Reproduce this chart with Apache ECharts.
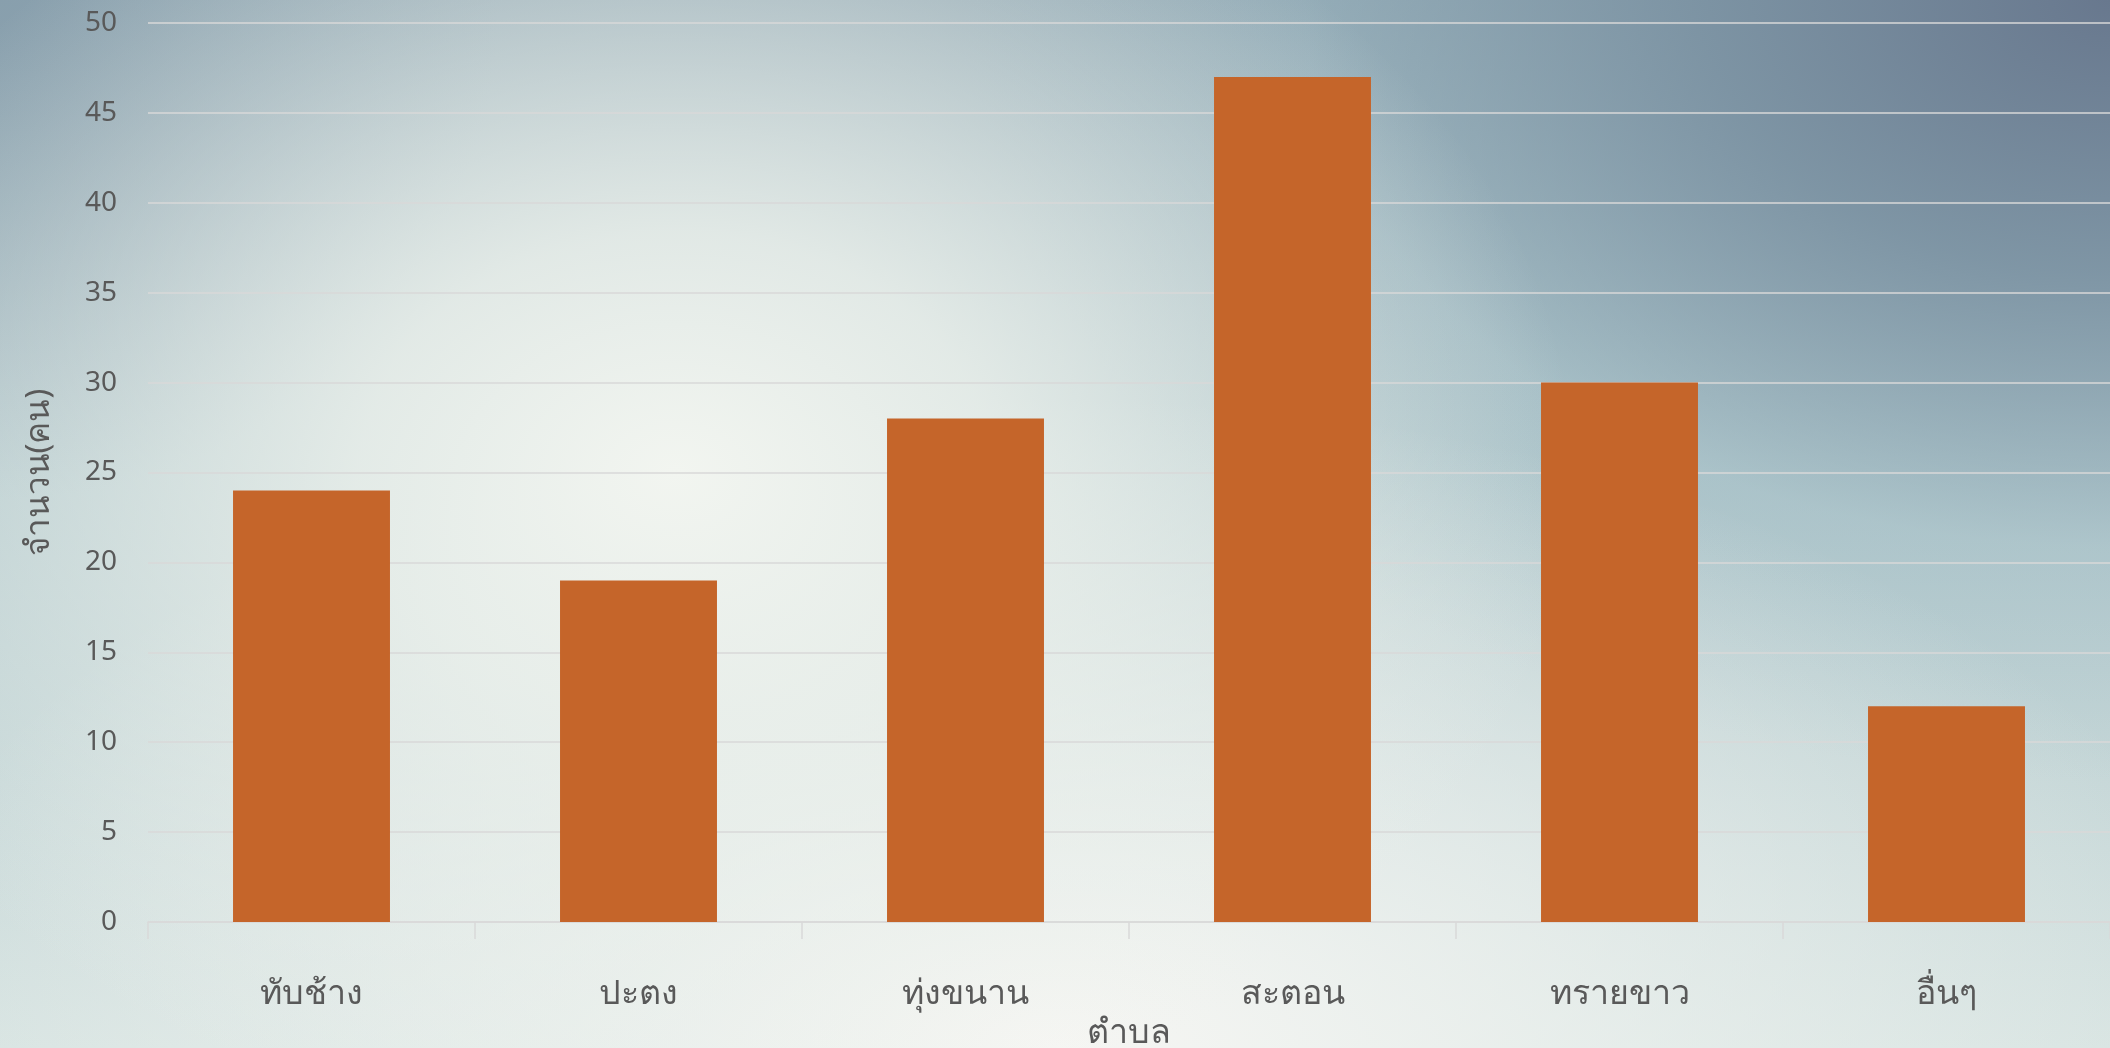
<!DOCTYPE html>
<html>
<head>
<meta charset="utf-8">
<script src="https://cdn.jsdelivr.net/npm/echarts@6/dist/echarts.min.js"></script>
<style>
html,body{margin:0;padding:0;width:2110px;height:1048px;overflow:hidden;}
body{
  background:
    radial-gradient(ellipse 900px 680px at 32% 45%, rgba(242,245,240,1) 0%, rgba(236,241,236,0.85) 35%, rgba(236,241,236,0) 100%),
    radial-gradient(ellipse 1200px 650px at 50% 100%, rgba(246,246,243,1) 0%, rgba(240,243,240,0.7) 40%, rgba(240,243,240,0) 100%),
    radial-gradient(ellipse 1150px 780px at 100% 0%, rgba(104,120,142,1) 0%, rgba(120,143,160,0.85) 35%, rgba(150,180,192,0.3) 70%, rgba(160,190,200,0) 100%),
    radial-gradient(ellipse 500px 500px at 0% 0%, rgba(135,158,172,0.9) 0%, rgba(135,158,172,0) 100%),
    linear-gradient(to bottom, #93a9b4 0%, #b3c9cd 45%, #d6e3e1 100%);
}
#chart{width:2110px;height:1048px;}
</style>
</head>
<body>
<div id="chart"></div>
<script>
const categories = ['ทับช้าง', 'ปะตง', 'ทุ่งขนาน', 'สะตอน', 'ทรายขาว', 'อื่นๆ'];
const values = [24, 19, 28, 47, 30, 12];
const yTicks = [0, 5, 10, 15, 20, 25, 30, 35, 40, 45, 50];
const xAxisName = 'ตำบล';
const yAxisName = 'จำนวน(คน)';

const chart = echarts.init(document.getElementById('chart'), null, {renderer: 'canvas'});
chart.setOption({
  backgroundColor: 'transparent',
  animation: false,
  grid: {left: 148, right: 0, top: 23, bottom: 126, containLabel: false, outerBoundsMode: 'none'},
  xAxis: {
    type: 'category',
    data: categories,
    name: xAxisName,
    nameLocation: 'middle',
    nameGap: 91,
    nameTextStyle: {color: '#595959', fontSize: 34, fontFamily: 'Noto Sans, sans-serif'},
    axisLine: {lineStyle: {color: '#d9d9d9', width: 1.5}},
    axisTick: {show: true, length: 17, lineStyle: {color: '#d9d9d9', width: 1.5}},
    axisLabel: {color: '#595959', fontSize: 34, margin: 55, fontFamily: 'Noto Sans, sans-serif'},
    splitLine: {show: false}
  },
  yAxis: {
    type: 'value',
    min: yTicks[0],
    max: yTicks[yTicks.length - 1],
    interval: 5,
    name: yAxisName,
    nameLocation: 'middle',
    nameGap: 92,
    nameTextStyle: {color: '#595959', fontSize: 33, fontFamily: 'Noto Sans, sans-serif'},
    axisLine: {show: false},
    axisTick: {show: false},
    axisLabel: {color: '#595959', fontSize: 28, margin: 31, fontFamily: 'Noto Sans, sans-serif'},
    splitLine: {lineStyle: {color: '#d9d9d9', width: 1.5}}
  },
  series: [{
    type: 'bar',
    data: values,
    barCategoryGap: '52%',
    itemStyle: {color: '#c5652a'}
  }]
});
</script>
</body>
</html>
